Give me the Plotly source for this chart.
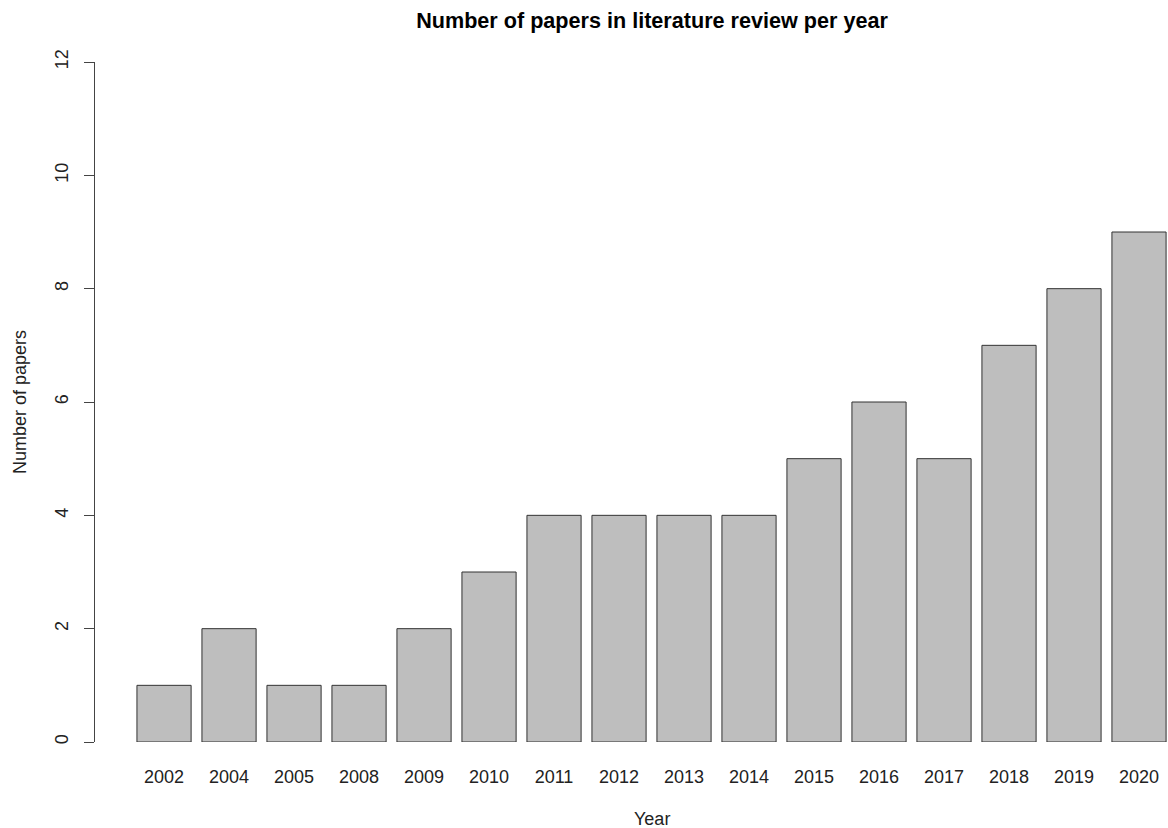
import plotly.graph_objects as go

years = ["2002", "2004", "2005", "2008", "2009", "2010", "2011", "2012",
         "2013", "2014", "2015", "2016", "2017", "2018", "2019", "2020"]
papers = [1, 2, 1, 1, 2, 3, 4, 4, 4, 4, 5, 6, 5, 7, 8, 9]
y_ticks = [0, 2, 4, 6, 8, 10, 12]

W, H = 1168, 828
L, R, T, B = 95, 0, 62, 828 - 742
pw = W - L - R
ph = H - T - B

FONT = "Liberation Sans, Arial, Helvetica, sans-serif"

fig = go.Figure(go.Bar(
    x=years, y=papers,
    marker=dict(color="#bebebe", line=dict(color="#333333", width=1)),
    showlegend=False,
))

fig.update_layout(
    width=W, height=H,
    margin=dict(l=L, r=R, t=T, b=B),
    paper_bgcolor="white", plot_bgcolor="white",
    bargap=1/6,
    font=dict(family=FONT, size=18, color="#222222"),
    title=dict(text="<b>Number of papers in literature review per year</b>",
               x=652 / W, xref="container", xanchor="center",
               y=1 - 20 / H, yref="container", yanchor="middle",
               font=dict(family=FONT, size=21.6, color="#000000")),
    xaxis=dict(type="category", range=[-1.062, 15.446], showline=False,
               showgrid=False, zeroline=False, ticks="", ticklabelstandoff=22,
               tickfont=dict(size=18, color="#222222")),
    yaxis=dict(range=[0, 12], tickvals=y_ticks, showline=True, linecolor="#444444",
               linewidth=1, ticks="outside", ticklen=10, tickcolor="#444444",
               tickangle=-90, showgrid=False, zeroline=False,
               ticklabelstandoff=9, tickfont=dict(size=18, color="#222222")),
    annotations=[
        dict(text="Number of papers", xref="paper", yref="paper",
             x=(20 - L) / pw, y=0.5, textangle=-90, showarrow=False,
             xanchor="center", yanchor="middle",
             font=dict(family=FONT, size=18, color="#222222")),
        dict(text="Year", xref="paper", yref="paper",
             x=(652 - L) / pw, y=-(819 - 742) / ph, showarrow=False,
             xanchor="center", yanchor="middle",
             font=dict(family=FONT, size=18, color="#222222")),
    ],
)

fig.write_html(
    "out.html",
    config={"displayModeBar": False},
    post_script="document.body.style.margin='0';document.body.style.overflow='hidden';",
)
